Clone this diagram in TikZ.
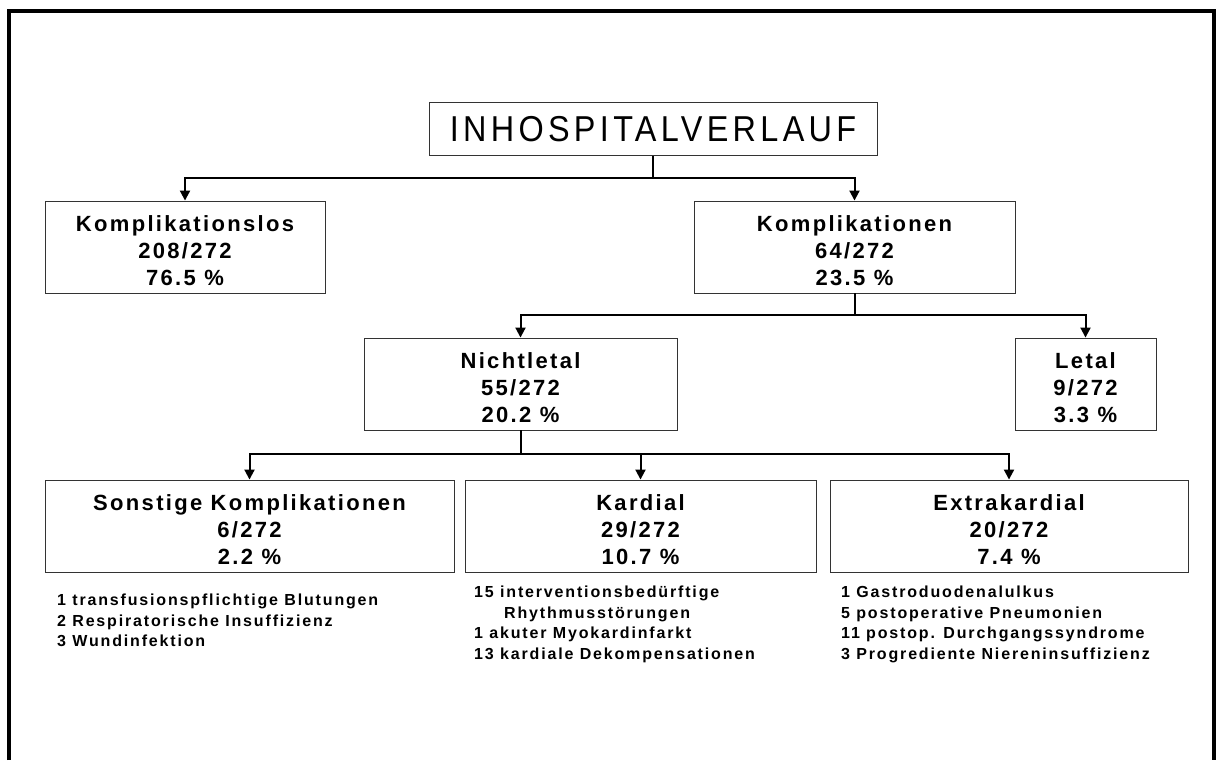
\documentclass[tikz,border=0pt]{standalone}
\usepackage{fontspec}
\setmainfont{Liberation Sans}
\newfontfamily\boxfont[LetterSpace=10.5]{Liberation Sans}
\newfontfamily\listfont[LetterSpace=11.5]{Liberation Sans}
\newfontfamily\titlefont[LetterSpace=12.0,FakeStretch=0.9]{Liberation Sans}
\newcommand{\topstrut}{\rule{0pt}{24pt}}
\usetikzlibrary{arrows.meta}

\begin{document}
\begin{tikzpicture}[x=1pt,y=-1pt,
    box/.style={draw=black!80, line width=0.9pt, align=center, inner sep=0pt,
      minimum height=92pt, font=\boxfont\bfseries\fontsize{22}{27}\selectfont},
    titlebox/.style={draw=black!80, line width=0.9pt, inner sep=0pt,
      minimum width=448pt, minimum height=53pt, font=\titlefont\fontsize{36}{40}\selectfont},
    conn/.style={line width=2pt},
    arr/.style={conn, -{Triangle[width=10pt,length=10pt]}},
    list/.style={anchor=north west, align=left, inner sep=0pt,
      font=\listfont\bfseries\fontsize{16}{20.5}\selectfont}]
    \useasboundingbox (0,0) rectangle (1217,760);

    % Draw the outer frame (open at the bottom)
    \draw[line width=4pt] (9,760) -- (9,11) -- (1213.5,11) -- (1213.5,760);

    % Top of the tree
    \node[titlebox] (title) at (653,129) {INHOSPITALVERLAUF};

    \node[box, minimum width=280pt] (kfrei) at (185,247) {\topstrut Komplikationslos\\208/272\\76.5 \%};
    \node[box, minimum width=321pt] (kompl) at (854.5,247) {\topstrut Komplikationen\\64/272\\23.5 \%};

    \node[box, minimum width=313pt] (nichtletal) at (520.5,384) {\topstrut Nichtletal\\55/272\\20.2 \%};
    \node[box, minimum width=141pt] (letal) at (1085.5,384) {\topstrut Letal\\9/272\\3.3 \%};

    \node[box, minimum width=409pt] (sonst) at (249.5,526) {\topstrut Sonstige Komplikationen\\6/272\\2.2 \%};
    \node[box, minimum width=351pt] (kard) at (640.5,526) {\topstrut Kardial\\29/272\\10.7 \%};
    \node[box, minimum width=358pt] (extra) at (1009,526) {\topstrut Extrakardial\\20/272\\7.4 \%};

    % Branch points
    \coordinate (j1) at (653,178);
    \coordinate (j2) at (854.5,315);
    \coordinate (j3) at (520.5,454);

    % Connectors
    \draw[conn] (title.south) -- (j1);
    \draw[arr] (j1) -| (kfrei.north);
    \draw[arr] (j1) -| (kompl.north);

    \draw[conn] (kompl.south) -- (j2);
    \draw[arr] (j2) -| (nichtletal.north);
    \draw[arr] (j2) -| (letal.north);

    \draw[conn] (nichtletal.south) -- (j3);
    \draw[arr] (j3) -| (sonst.north);
    \draw[arr] (j3) -| (kard.north);
    \draw[arr] (j3) -| (extra.north);

    % Lists under the bottom boxes
    \node[list] (sonstlist) at (57,594) {1 transfusionspflichtige Blutungen\\2 Respiratorische Insuffizienz\\3 Wundinfektion};
    \node[list] (kardlist) at (474,586) {15 interventionsbedürftige\\\hspace*{30pt}Rhythmusstörungen\\1 akuter Myokardinfarkt\\13 kardiale Dekompensationen};
    \node[list] (extralist) at (841,586) {1 Gastroduodenalulkus\\5 postoperative Pneumonien\\11 postop. Durchgangssyndrome\\3 Progrediente Niereninsuffizienz};

\end{tikzpicture}
\end{document}
